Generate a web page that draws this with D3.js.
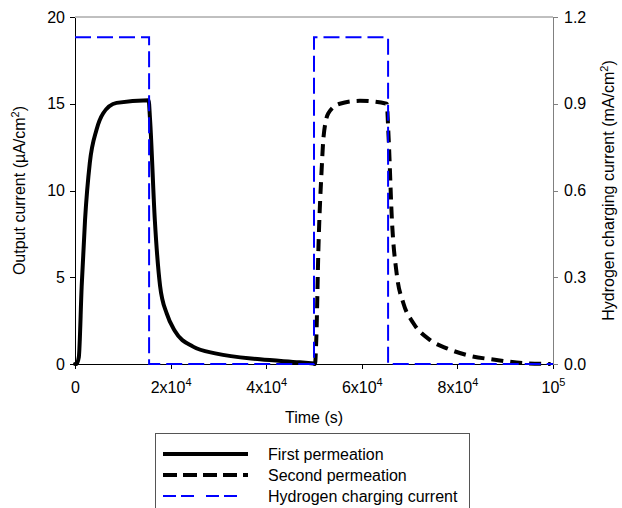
<!DOCTYPE html>
<html>
<head>
<meta charset="utf-8">
<script src="https://cdn.jsdelivr.net/npm/d3@7"></script>
<style>
    body { margin: 0; background: #fff; }
    svg { font-family: "Liberation Sans", Arial, sans-serif; }
</style>
</head>
<body>
<div id="chart"></div>
<script>
// time in s, output current in µA/cm2
const firstTime = [0, 300, 800, 1400, 2100, 3100, 4500, 5900, 8700, 15400, 15700, 16700, 17800, 19200, 20900, 24700, 29600, 38700, 47000, 50000]
const firstCurrent = [0, 0, 0.4, 4.5, 8.3, 11.6, 13.5, 14.45, 15.05, 15.2, 14.1, 8.3, 4.5, 2.9, 1.9, 1.0, 0.6, 0.27, 0.1, 0.03]

const secondTime = [50000, 50200, 50500, 50900, 51600, 52000, 53000, 55400, 59600, 65200, 65600, 66300, 67300, 68700, 70800, 74300, 77800, 81900, 88200, 93800, 99500]
const secondCurrent = [0.03, 0, 1.6, 6.4, 11.2, 13.1, 14.45, 15.0, 15.17, 15.0, 13.1, 8.3, 5.2, 3.5, 2.35, 1.38, 0.9, 0.52, 0.23, 0.05, 0]

// hydrogen charging current in mA/cm2
const chargeTime = [0, 15500, 15500, 50000, 50000, 65500, 65500, 100000]
const chargeCurrent = [1.13, 1.13, 0, 0, 1.13, 1.13, 0, 0]

const xTicks = [0, 20000, 40000, 60000, 80000, 100000]
const xTickLabels = [["0", ""], ["2x10", "4"], ["4x10", "4"], ["6x10", "4"], ["8x10", "4"], ["10", "5"]]
const leftTicks = [0, 5, 10, 15, 20]
const rightTicks = [0, 0.3, 0.6, 0.9, 1.2]

const legendNames = ["First permeation", "Second permeation", "Hydrogen charging current"]

const W = 622, H = 508
const margin = { left: 75, right: 69, top: 17, bottom: 144 }
const width = W - margin.left - margin.right
const height = H - margin.top - margin.bottom

const svg = d3.select("#chart").append("svg")
    .attr("width", W)
    .attr("height", H)

const g = svg.append("g")
    .attr("transform", `translate(${margin.left}, ${margin.top})`)

const x = d3.scaleLinear().domain([0, 100000]).range([0, width])
const y = d3.scaleLinear().domain([0, 20]).range([height, 0])
const y2 = d3.scaleLinear().domain([0, 1.2]).range([height, 0])

/* FRAME */
g.append("line")
    .attr("x1", 0).attr("x2", width).attr("y1", 0).attr("y2", 0)
    .attr("stroke", "#808080").attr("stroke-width", 1)

/* AXES */
const fontSize = "16px"
const supSize = "11px"
const xAxis = g.append("g")
    .attr("transform", `translate(0, ${height})`)
    .call(d3.axisBottom(x).tickValues(xTicks).tickSize(5).tickSizeOuter(0).tickFormat(""))
xAxis.selectAll(".tick").append("text")
    .attr("y", 29)
    .attr("text-anchor", "middle")
    .attr("fill", "#000")
    .style("font-size", fontSize)
    .each(function(d, i) {
        const t = d3.select(this)
        t.append("tspan").text(xTickLabels[i][0])
        if (xTickLabels[i][1]) {
            t.append("tspan").attr("dy", -7).style("font-size", supSize).text(xTickLabels[i][1])
        }
    })

const yAxis = g.append("g")
    .call(d3.axisLeft(y).tickValues(leftTicks).tickSize(5).tickSizeOuter(0).tickPadding(5))
yAxis.selectAll("text").style("font-size", fontSize).attr("fill", "#000")

const y2Axis = g.append("g")
    .attr("transform", `translate(${width}, 0)`)
    .call(d3.axisRight(y2).tickValues(rightTicks).tickSize(5).tickSizeOuter(0).tickPadding(6).tickFormat(d3.format(".1f")))
y2Axis.selectAll("text").style("font-size", fontSize).attr("fill", "#000")
y2Axis.select(".domain").attr("stroke", "#808080")
y2Axis.selectAll(".tick line").attr("stroke", "#808080")

svg.selectAll(".domain, .tick line").attr("shape-rendering", "crispEdges")

/* AXIS LABELS */
svg.append("text")
    .attr("x", margin.left + width / 2)
    .attr("y", 423)
    .attr("text-anchor", "middle")
    .style("font-size", fontSize)
    .text("Time (s)")

const leftLabel = svg.append("text")
    .attr("transform", `translate(25, ${margin.top + height / 2}) rotate(-90)`)
    .attr("text-anchor", "middle")
    .style("font-size", fontSize)
leftLabel.append("tspan").text("Output current (µA/cm")
leftLabel.append("tspan").attr("dy", -6).style("font-size", supSize).text("2")
leftLabel.append("tspan").attr("dy", 6).text(")")

const rightLabel = svg.append("text")
    .attr("transform", `translate(614, ${margin.top + height / 2}) rotate(-90)`)
    .attr("text-anchor", "middle")
    .style("font-size", fontSize)
rightLabel.append("tspan").text("Hydrogen charging current (mA/cm")
rightLabel.append("tspan").attr("dy", -6).style("font-size", supSize).text("2")
rightLabel.append("tspan").attr("dy", 6).text(")")

/* LINES */
const zip = (ts, vs) => ts.map((t, i) => [t, vs[i]])

const lineLeft = d3.line()
    .x(d => x(d[0]))
    .y(d => y(d[1]))
    .curve(d3.curveMonotoneX)

const lineCharge = d3.line()
    .x(d => x(d[0]))
    .y(d => y2(d[1]))

g.append("path")
    .datum(zip(firstTime, firstCurrent))
    .attr("d", lineLeft)
    .attr("fill", "none")
    .attr("stroke", "#000")
    .attr("stroke-width", 4)
    .attr("stroke-linejoin", "round")
    .attr("stroke-linecap", "round")

g.append("path")
    .datum(zip(secondTime, secondCurrent))
    .attr("d", lineLeft)
    .attr("fill", "none")
    .attr("stroke", "#000")
    .attr("stroke-width", 4)
    .attr("stroke-dasharray", "12,7")
    .attr("stroke-linejoin", "round")

g.append("path")
    .datum(zip(chargeTime, chargeCurrent))
    .attr("d", lineCharge)
    .attr("fill", "none")
    .attr("stroke", "#0000ff")
    .attr("stroke-width", 2)
    .attr("stroke-dasharray", "16,6")

/* LEGEND */
const legend = svg.append("g")
legend.append("rect")
    .attr("x", 155.5).attr("y", 433.5)
    .attr("width", 314).attr("height", 90)
    .attr("fill", "#fff")
    .attr("stroke", "#555")

const legendStyles = [
    { stroke: "#000", width: 4, dash: null },
    { stroke: "#000", width: 4, dash: "14,6" },
    { stroke: "#0000ff", width: 2, dash: "13,5,13,12" }
]
legendNames.forEach((name, i) => {
    const yy = 454 + i * 21
    legend.append("line")
        .attr("x1", 163).attr("x2", 248)
        .attr("y1", yy).attr("y2", yy)
        .attr("stroke", legendStyles[i].stroke)
        .attr("stroke-width", legendStyles[i].width)
        .attr("stroke-dasharray", legendStyles[i].dash)
    legend.append("text")
        .attr("x", 268).attr("y", yy + 6)
        .style("font-size", fontSize)
        .text(name)
})
</script>
</body>
</html>
